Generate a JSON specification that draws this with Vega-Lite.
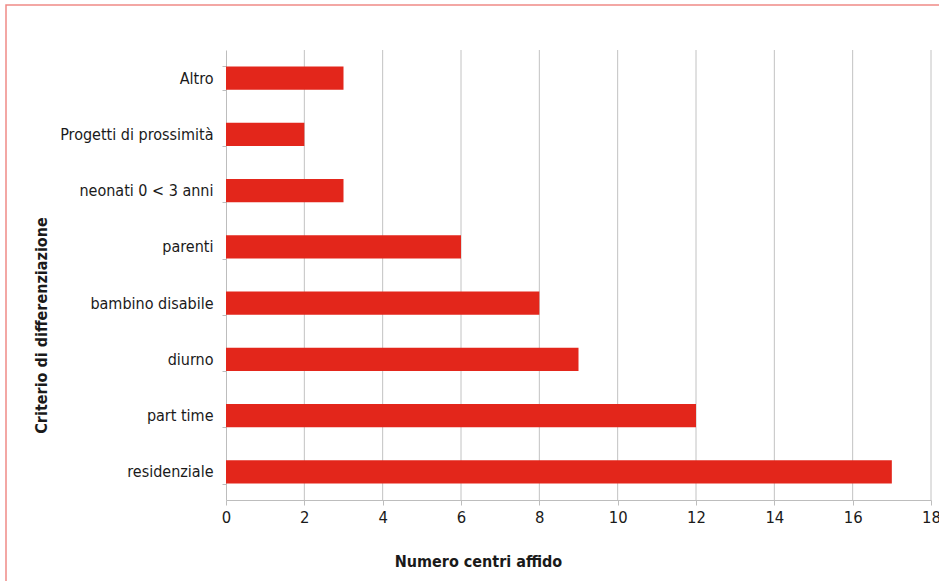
{
  "$schema": "https://vega.github.io/schema/vega-lite/v6.json",
  "width": 953,
  "height": 596,
  "autosize": {"type": "none"},
  "padding": {"left": 6, "top": 5, "right": -20, "bottom": -20},
  "background": "white",
  "config": {
    "view": {"stroke": "#ef8a86", "strokeWidth": 1.5},
    "font": "DejaVu Sans Condensed",
    "axis": {
      "grid": false,
      "domainColor": "#bdbdbd",
      "domainWidth": 1,
      "tickColor": "#bdbdbd",
      "tickWidth": 1,
      "labelColor": "#1a1a1a",
      "titleColor": "#1a1a1a",
      "labelFont": "DejaVu Sans Condensed",
      "titleFont": "DejaVu Sans Condensed",
      "titleFontWeight": "bold"
    }
  },
  "datasets": {
    "centri": [
      {"criterio": "Altro", "n": 3},
      {"criterio": "Progetti di prossimità", "n": 2},
      {"criterio": "neonati 0 < 3 anni", "n": 3},
      {"criterio": "parenti", "n": 6},
      {"criterio": "bambino disabile", "n": 8},
      {"criterio": "diurno", "n": 9},
      {"criterio": "part time", "n": 12},
      {"criterio": "residenziale", "n": 17}
    ],
    "griglia": [
      {"v": 2}, {"v": 4}, {"v": 6}, {"v": 8}, {"v": 10},
      {"v": 12}, {"v": 14}, {"v": 16}, {"v": 18}
    ]
  },
  "layer": [
    {
      "data": {"name": "griglia"},
      "mark": {"type": "rule", "color": "#c2c2c2", "strokeWidth": 1},
      "encoding": {
        "x": {
          "field": "v",
          "type": "quantitative",
          "title": "Numero centri affido",
          "scale": {"domain": [0, 18], "range": [220, 925], "nice": false, "zero": true},
          "axis": {
            "title": "Numero centri affido",
            "values": [0, 2, 4, 6, 8, 10, 12, 14, 16, 18],
            "offset": -101,
            "tickSize": 5,
            "labelFontSize": 16.5,
            "labelPadding": 4,
            "labelFlush": false,
            "labelOverlap": false,
            "titleFontSize": 16,
            "titleX": 472,
            "titleY": 61,
            "titleBaseline": "middle",
            "titleAlign": "center"
          }
        },
        "y": {
          "datum": 0,
          "type": "quantitative",
          "scale": {"domain": [0, 1], "range": [45, 495], "nice": false, "zero": false},
          "axis": null
        },
        "y2": {"datum": 1}
      }
    },
    {
      "data": {"name": "centri"},
      "mark": {"type": "bar", "color": "#e3261b"},
      "encoding": {
        "x": {"field": "n", "type": "quantitative", "title": "Numero centri affido"},
        "y": {
          "field": "criterio",
          "type": "nominal",
          "sort": null,
          "scale": {"range": [45, 495], "paddingInner": 0.585, "paddingOuter": 0.2925},
          "axis": {
            "title": "Criterio di differenziazione",
            "offset": -220,
            "tickBand": "extent",
            "tickSize": 4,
            "labelPadding": 9,
            "labelFontSize": 16,
            "labelLimit": 0,
            "titleFontSize": 16,
            "titleAngle": 270,
            "titleX": -185,
            "titleY": 320,
            "titleBaseline": "middle",
            "titleAlign": "center"
          }
        }
      }
    }
  ],
  "resolve": {"scale": {"y": "independent"}, "axis": {"y": "independent"}}
}
